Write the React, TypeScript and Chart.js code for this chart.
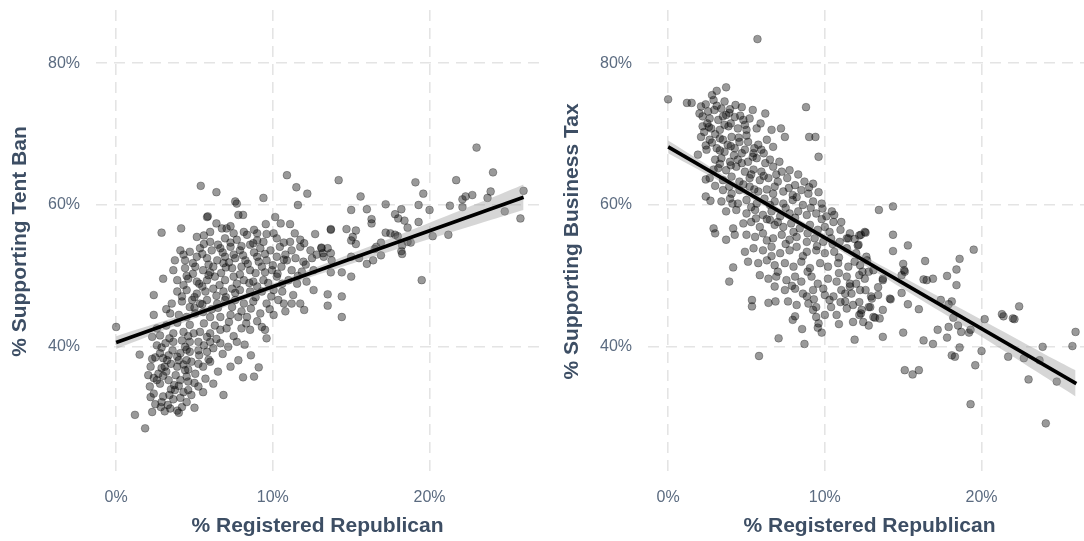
import React, { useEffect, useRef } from "react";
import { Chart, registerables } from "chart.js";

Chart.register(...registerables);

const xTicks = [0, 10, 20];
const yTicks = [40, 60, 80];
const xLabel = "% Registered Republican";
const tentTitle = "% Supporting Tent Ban";
const taxTitle = "% Supporting Business Tax";

const tentBanPoints: [number, number][] = [
  [0, 42.8], [1.5, 38.9], [1.2, 30.4], [1.85, 28.5], [2.4, 44.5], [2.4, 47.3], [3.0, 49.6], [2.9, 56.1],
  [4.15, 56.7], [5.4, 62.7], [6.4, 61.8], [7.6, 60.5], [7.7, 60.2], [7.8, 58.6], [8.1, 58.6], [5.8, 58.3],
  [5.85, 58.4], [9.4, 61.0], [10.9, 64.2], [11.5, 62.5], [12.2, 61.6], [11.6, 60.0], [14.2, 63.5], [10.15, 58.3],
  [9.55, 57.3], [10.5, 57.4], [11.1, 57.3], [13.7, 56.5], [12.7, 55.9], [6.85, 33.2], [8.1, 35.7], [8.8, 35.8],
  [9.1, 37.1], [7.8, 38.1], [8.6, 38.8], [13.5, 47.4], [13.5, 45.8], [12.6, 48.0], [12.0, 45.2], [11.75, 46.1],
  [11.2, 46.1],
  [2.3, 30.8], [2.85, 31.5], [3.45, 31.3], [4.2, 31.5], [5.0, 31.4], [3.65, 32.6], [2.4, 33.4], [3.75, 33.9],
  [4.6, 33.9], [5.25, 34.4], [5.55, 33.6], [2.15, 34.4], [2.6, 35.3], [3.35, 35.3], [4.1, 35.3], [4.5, 35.8],
  [5.05, 36.2], [2.7, 36.2], [3.1, 37.2], [3.9, 37.2], [4.4, 36.7], [2.2, 37.2], [2.05, 36.0], [3.25, 38.1],
  [4.0, 38.1], [4.5, 38.1], [5.25, 37.6], [5.55, 37.2], [6.0, 37.9], [2.8, 39.1], [3.35, 38.8], [4.1, 39.1],
  [4.7, 39.3], [5.25, 39.5], [5.8, 39.3], [6.2, 39.8], [2.6, 40.2], [3.15, 40.5], [3.65, 40.7], [4.2, 40.9],
  [4.7, 40.7], [5.25, 40.7], [6.0, 40.7], [6.65, 40.5], [7.15, 40.0], [7.7, 40.7], [2.3, 41.4], [2.8, 41.6],
  [3.65, 41.9], [4.3, 42.1], [4.95, 41.9], [5.35, 42.1], [6.0, 41.9], [6.65, 42.4], [7.05, 42.6], [8.0, 42.6],
  [8.55, 42.4], [9.3, 42.8], [9.5, 42.4], [9.6, 41.2],
  [3.0, 33.0], [3.5, 34.0], [4.0, 34.5], [2.8, 34.8], [3.2, 36.5], [3.8, 36.0], [4.3, 37.5], [2.5, 38.5],
  [3.6, 39.5], [4.4, 40.0], [2.9, 32.2], [4.1, 32.8], [4.8, 33.2], [3.3, 31.8], [4.6, 36.8], [5.3, 38.8],
  [2.5, 31.9], [3.1, 30.9], [3.9, 31.0], [4.5, 32.2], [2.2, 32.9], [3.4, 33.2], [4.3, 33.6], [5.0, 34.9],
  [2.4, 35.6], [3.0, 35.9], [3.7, 34.6], [4.6, 35.1], [2.9, 37.0], [3.5, 37.6], [4.8, 37.9], [2.3, 38.3],
  [3.0, 38.4], [3.9, 38.6], [4.5, 39.6], [5.6, 40.2], [2.9, 39.9], [3.4, 41.2], [4.6, 41.5], [5.8, 41.4],
  [6.4, 41.1], [2.6, 42.6], [3.2, 43.0], [3.9, 43.4], [4.7, 43.1], [5.6, 43.3], [6.3, 43.0], [7.2, 43.5],
  [8.3, 43.3], [9.0, 43.6], [7.5, 41.5], [8.2, 40.3], [6.8, 39.0], [5.9, 38.2], [6.5, 36.5], [7.3, 37.2],
  [5.7, 35.5], [6.2, 34.8], [4.0, 30.7],
  [3.45, 44.7], [4.0, 44.5], [4.5, 44.2], [5.05, 44.7], [5.55, 44.9], [6.0, 44.2], [6.65, 44.2], [7.3, 44.5],
  [7.8, 44.2], [8.35, 44.2], [9.2, 44.7], [10.05, 44.5], [3.55, 46.1], [4.2, 46.4], [4.85, 46.6], [5.35, 46.1],
  [5.8, 46.6], [6.45, 46.1], [6.95, 46.6], [7.6, 46.6], [8.15, 46.1], [8.75, 46.4], [9.6, 46.1], [10.35, 46.6],
  [10.7, 46.1], [3.9, 47.8], [4.5, 48.0], [5.15, 47.5], [5.7, 47.8], [6.2, 48.2], [6.85, 47.8], [7.4, 48.2],
  [7.9, 48.0], [8.55, 47.8], [9.3, 47.8], [10.05, 48.0], [10.6, 47.8], [3.9, 49.4], [4.6, 49.6], [5.15, 49.2],
  [5.8, 49.4], [6.3, 49.9], [6.95, 49.4], [7.5, 49.9], [8.15, 49.4], [8.75, 49.2], [9.4, 49.4], [10.25, 49.9],
  [11.0, 49.4], [11.55, 48.9], [12.15, 49.2], [3.65, 50.8], [4.4, 51.1], [5.05, 51.3], [5.55, 50.8], [6.2, 51.3],
  [6.85, 51.8], [7.4, 51.1], [8.0, 51.3], [8.55, 50.8], [9.3, 51.3], [9.95, 50.8], [10.55, 51.3], [11.2, 50.8],
  [11.85, 50.6], [12.6, 50.8], [3.75, 52.2], [4.4, 52.2], [5.15, 52.7], [5.8, 52.5], [6.45, 52.2], [6.95, 52.7],
  [7.6, 52.5], [8.25, 52.2], [9.0, 52.7], [9.6, 52.2], [10.25, 52.7], [10.9, 52.2], [11.45, 52.5], [11.95, 52.0],
  [12.5, 52.5], [13.25, 52.7], [13.75, 52.2], [4.1, 53.6], [4.7, 53.4], [5.35, 53.9], [6.1, 53.6], [6.65, 53.9],
  [7.3, 54.1], [7.9, 53.6], [8.55, 54.4], [9.2, 53.9], [9.85, 53.6], [10.45, 54.1], [11.2, 53.6], [11.75, 54.1],
  [12.4, 53.6], [13.1, 53.9], [5.15, 55.5], [6.0, 54.8], [6.95, 55.3], [7.7, 55.1], [8.35, 55.8], [8.75, 54.6],
  [9.4, 54.8], [10.25, 55.3], [11.1, 54.8], [11.75, 55.1], [6.0, 56.2], [6.75, 56.7], [7.05, 56.7], [8.15, 56.2],
  [9.0, 56.0], [10.05, 56.0],
  [5.0, 45.5], [6.5, 45.5], [7.0, 47.0], [5.5, 48.5], [8.5, 49.0], [9.5, 50.5], [6.0, 50.5], [7.5, 53.0],
  [4.5, 50.0], [8.0, 45.0], [9.0, 48.5], [10.0, 51.5], [5.5, 46.0], [7.2, 51.9], [8.8, 53.3],
  [3.2, 45.3], [4.7, 45.6], [6.1, 45.3], [7.4, 45.6], [8.6, 45.4], [9.8, 45.3], [10.8, 45.0], [4.2, 47.1],
  [5.0, 47.0], [6.4, 47.2], [7.6, 47.6], [8.9, 47.0], [9.9, 47.1], [11.3, 47.3], [4.3, 48.7], [5.3, 48.9],
  [6.6, 48.7], [7.7, 48.9], [9.7, 49.0], [10.6, 48.9], [4.9, 50.3], [5.9, 50.1], [6.7, 50.4], [7.9, 50.2],
  [8.9, 50.4], [10.3, 50.3], [11.6, 50.0], [4.9, 51.8], [5.9, 51.6], [7.0, 51.2], [8.4, 51.7], [9.1, 52.0],
  [10.7, 52.3], [12.1, 51.6], [4.3, 53.0], [5.5, 53.1], [6.8, 53.3], [8.1, 52.9], [9.5, 53.1], [10.8, 53.0],
  [12.8, 53.0], [5.6, 54.5], [6.5, 54.4], [7.3, 54.7], [8.0, 54.2], [9.0, 55.0], [10.7, 54.7], [12.0, 54.6],
  [5.6, 55.7], [7.5, 56.0], [8.8, 56.5], [6.4, 57.4], [7.3, 57.0], [9.6, 55.9], [11.4, 56.0],
  [23.0, 68.1], [24.05, 64.6], [21.7, 63.5], [19.1, 63.2], [19.6, 61.6], [15.6, 61.2], [22.73, 61.4], [22.3, 61.2],
  [22.1, 60.8], [23.9, 61.9], [23.7, 61.0], [26.0, 62.0], [25.8, 58.1], [24.8, 59.1], [21.3, 59.9], [22.1, 59.7],
  [21.2, 55.8], [20.2, 55.6], [20.0, 59.3], [19.3, 60.0], [19.3, 57.6], [19.5, 49.4], [17.2, 60.1], [16.0, 59.4],
  [15.0, 59.3], [18.2, 59.4], [17.8, 58.7], [18.0, 58.1], [18.4, 57.8], [16.3, 58.0], [16.3, 57.4], [14.7, 56.6],
  [15.3, 56.4], [15.1, 55.5], [15.0, 55.0], [15.3, 54.5], [13.7, 56.6], [17.2, 56.1], [17.5, 56.0], [17.8, 55.8],
  [17.97, 55.6], [18.6, 56.8], [18.6, 54.8], [18.8, 54.7], [18.25, 54.3], [18.2, 53.5], [18.25, 53.1], [16.6, 54.1],
  [16.5, 53.8], [16.9, 54.7], [16.9, 52.9], [16.4, 52.2], [16.0, 51.7], [15.5, 52.5], [15.0, 52.7], [15.0, 49.9],
  [14.4, 50.5], [13.7, 50.5], [14.4, 47.1], [14.4, 44.2], [13.7, 53.2], [13.1, 54.0], [13.5, 53.9], [13.2, 53.2],
];

const businessTaxPoints: [number, number][] = [
  [5.7, 83.4], [0, 74.9], [1.2, 74.4], [1.5, 74.4], [3.1, 76.1], [3.7, 76.6], [2.8, 75.5], [2.9, 74.8],
  [8.8, 73.8], [6.2, 72.9], [7.2, 70.8], [7.45, 69.6], [9.0, 69.6], [9.4, 69.6], [9.6, 66.8], [1.9, 67.1],
  [2.4, 63.6], [2.4, 61.2], [2.7, 60.6], [2.9, 56.7], [3.0, 56.0], [3.7, 55.1], [4.15, 56.7], [4.25, 55.8],
  [3.9, 49.2], [4.15, 51.2], [5.8, 38.7], [7.05, 41.2], [8.7, 40.4], [5.35, 46.6], [5.35, 45.7], [6.4, 46.2],
  [6.85, 46.4], [8.1, 44.3], [7.95, 43.8], [8.55, 42.5], [9.55, 42.7], [9.8, 42.0], [9.45, 44.2], [9.25, 45.2],
  [10.4, 45.6], [10.75, 44.5], [11.9, 41.0], [12.45, 43.5], [13.5, 44.0], [13.7, 41.4], [14.35, 59.8], [13.45, 59.3],
  [14.35, 55.8], [14.35, 53.5], [12.55, 56.2], [12.2, 55.7], [11.05, 57.6], [10.45, 59.1], [9.8, 60.2], [9.85, 59.5],
  [2.1, 73.9], [2.55, 73.2], [2.95, 73.4], [3.4, 73.6], [3.95, 73.5], [4.7, 73.8], [2.2, 72.5], [2.65, 72.2],
  [3.2, 72.0], [3.7, 72.7], [4.25, 72.4], [4.8, 72.0], [5.2, 72.2], [2.2, 71.1], [2.75, 70.8], [3.3, 70.6],
  [3.85, 71.1], [4.45, 70.8], [5.0, 70.6], [5.65, 70.8], [2.1, 69.6], [2.65, 69.2], [3.3, 69.4], [3.5, 69.2],
  [4.05, 69.6], [4.55, 68.9], [5.1, 68.9], [5.75, 68.5], [6.3, 69.2], [2.45, 67.8], [3.1, 68.0], [3.6, 67.5],
  [4.25, 68.0], [4.9, 67.8], [5.45, 67.3], [5.95, 67.8], [6.7, 68.2], [3.0, 66.4], [3.4, 66.6], [3.95, 66.1],
  [4.45, 66.4], [5.1, 66.1], [5.65, 66.6], [6.5, 66.4], [7.1, 66.1], [3.2, 65.2], [3.7, 64.9], [4.35, 65.4],
  [4.9, 64.7], [5.45, 65.0], [5.95, 64.7], [6.7, 65.4], [7.25, 64.7], [7.75, 64.9],
  [2.5, 71.5], [3.0, 70.0], [3.5, 72.5], [4.0, 71.5], [4.5, 69.5], [3.8, 68.5], [2.8, 68.8], [5.0, 69.8],
  [4.2, 67.0], [3.3, 65.8], [5.5, 68.0], [2.3, 70.3], [3.9, 73.0], [4.6, 72.6], [3.1, 74.0],
  [2.0, 72.9], [2.4, 74.2], [3.6, 74.6], [4.3, 74.1], [5.4, 73.4], [2.6, 71.0], [3.6, 71.3], [4.9, 71.3],
  [5.9, 71.5], [6.6, 70.6], [2.4, 68.4], [3.3, 67.7], [4.0, 68.3], [4.7, 67.3], [5.4, 66.8], [6.1, 67.3],
  [6.2, 65.9], [2.9, 65.0], [4.0, 65.6], [4.7, 65.9], [5.3, 64.3], [6.1, 64.1], [6.9, 64.3], [7.6, 63.8],
  [8.3, 64.3], [3.0, 62.7], [3.9, 62.6], [4.8, 62.9], [5.5, 62.2], [6.7, 61.6], [7.7, 62.4], [8.2, 61.1],
  [9.0, 62.5], [9.6, 61.8], [4.1, 60.2], [5.3, 59.7], [6.5, 60.0], [7.5, 59.6], [8.1, 58.2], [9.1, 59.6],
  [9.8, 58.0], [10.6, 58.6], [5.6, 58.1], [6.3, 58.0], [7.0, 57.6], [8.0, 56.2], [8.9, 56.0], [10.3, 56.2],
  [6.3, 55.0], [7.5, 54.5], [9.5, 54.2], [10.5, 54.5], [11.9, 55.2], [6.6, 52.8], [8.6, 52.8], [10.9, 52.6],
  [11.9, 52.0], [7.0, 50.6], [8.9, 50.6], [10.9, 50.4], [12.4, 50.6], [7.9, 48.6], [10.0, 47.3], [11.6, 48.5],
  [13.4, 48.4], [9.3, 46.7], [11.0, 46.3], [9.6, 43.3], [10.9, 43.2], [12.8, 43.0],
  [2.65, 63.8], [3.5, 63.5], [4.05, 64.0], [4.55, 63.3], [5.2, 63.8], [5.85, 63.5], [6.4, 63.8], [7.0, 63.3],
  [8.1, 62.8], [8.7, 63.3], [9.25, 63.0], [3.5, 62.1], [4.05, 61.6], [4.55, 62.1], [5.2, 62.6], [5.75, 61.9],
  [6.3, 62.2], [6.8, 62.6], [7.35, 61.9], [7.95, 61.4], [8.5, 62.1], [8.95, 61.6], [3.4, 60.5], [3.95, 60.9],
  [4.45, 60.2], [5.0, 60.7], [5.65, 60.2], [6.15, 60.9], [6.8, 60.5], [7.35, 60.2], [7.95, 60.7], [8.6, 60.0],
  [9.25, 60.5], [3.7, 59.1], [4.35, 59.3], [5.0, 58.8], [5.55, 59.3], [6.05, 58.6], [6.6, 59.1], [7.15, 58.4],
  [7.75, 58.8], [8.3, 59.1], [8.85, 58.6], [9.45, 58.8], [10.1, 58.4], [10.55, 57.6], [4.8, 57.4], [5.3, 57.6],
  [5.85, 56.9], [6.5, 57.9], [6.8, 57.2], [7.35, 56.9], [7.85, 57.4], [8.4, 56.7], [9.05, 57.2], [9.55, 56.5],
  [10.0, 56.9], [11.0, 56.5], [11.6, 56.0], [5.0, 55.8], [5.55, 55.5], [6.05, 56.0], [6.7, 55.3], [7.25, 55.8],
  [7.75, 55.1], [8.2, 55.5], [8.85, 54.8], [9.35, 55.3], [9.9, 54.8], [10.4, 55.3], [10.95, 54.8], [11.4, 55.3],
  [12.15, 54.4],
  [4.9, 53.4], [5.45, 53.9], [6.05, 53.6], [6.6, 54.1], [7.15, 53.2], [7.75, 53.6], [8.2, 54.1], [8.85, 53.4],
  [9.45, 53.6], [10.0, 53.2], [10.6, 53.4], [11.4, 53.9], [12.0, 53.2], [12.65, 52.7], [5.1, 52.0], [5.75, 51.8],
  [6.3, 52.2], [6.8, 51.5], [7.45, 51.8], [8.0, 51.3], [8.5, 52.0], [9.05, 51.1], [9.7, 51.8], [10.2, 51.3],
  [10.85, 51.8], [11.5, 51.3], [12.25, 51.5], [13.1, 50.8], [13.7, 49.6], [5.85, 50.1], [6.4, 49.6], [6.9, 49.9],
  [7.55, 49.4], [8.1, 49.9], [8.5, 49.2], [9.15, 49.9], [9.55, 48.9], [10.2, 49.6], [10.75, 49.2], [11.4, 49.9],
  [12.0, 48.9], [12.55, 49.6], [6.8, 48.5], [7.45, 48.0], [8.1, 48.2], [8.6, 47.5], [8.85, 47.1], [9.25, 48.0],
  [9.9, 48.2], [10.55, 47.1], [11.05, 48.0], [11.7, 47.5], [12.25, 48.0], [12.95, 47.1], [13.4, 47.3], [14.15, 46.8],
  [7.65, 46.4], [8.2, 45.9], [8.95, 46.1], [9.45, 45.6], [11.3, 46.4], [11.8, 45.9], [12.35, 45.2], [12.9, 45.6],
  [12.2, 44.5], [13.1, 44.2], [11.4, 45.4], [10.0, 44.5], [10.3, 46.6],
  [15.3, 54.3], [15.0, 51.7], [15.06, 50.8], [15.1, 50.6], [14.9, 50.1], [14.9, 47.6], [15.3, 46.0], [15.0, 42.0],
  [16.0, 45.3], [16.4, 52.1], [16.3, 49.5], [16.5, 49.4], [16.9, 49.6], [16.3, 40.9], [16.9, 40.4], [15.1, 36.7],
  [15.6, 36.1], [16.0, 36.7], [17.2, 42.4], [17.8, 41.3], [17.8, 50.0], [18.4, 50.9], [18.6, 52.4], [18.4, 48.7],
  [19.5, 53.7], [17.4, 46.6], [18.1, 46.4], [17.9, 46.0], [18.2, 44.1], [17.9, 42.8], [18.5, 43.0], [18.7, 42.1],
  [19.2, 42.0], [19.3, 42.4], [18.1, 38.8], [18.3, 38.6], [18.6, 39.9], [20.0, 39.4], [19.6, 37.4], [19.3, 31.9],
  [20.2, 43.9], [21.3, 44.6], [21.4, 44.3], [22.0, 44.0], [22.1, 43.9], [22.4, 45.7], [21.7, 38.6], [22.7, 38.4],
  [23.0, 35.4], [23.7, 38.1], [23.9, 40.0], [24.1, 29.2], [24.8, 35.1], [25.8, 40.1], [26.0, 42.1],
  [13.7, 49.4], [14.2, 46.7], [13.7, 45.2], [13.2, 44.1], [12.6, 56.1], [12.3, 55.8], [11.5, 55.3], [12.1, 54.3],
  [12.7, 52.2], [12.8, 50.6], [12.2, 50.1], [12.6, 48.0], [12.2, 46.3], [12.8, 45.6], [13.0, 46.8], [11.8, 43.5],
  [12.3, 44.7], [11.6, 48.9], [11.3, 47.5],
];

const tentFitX = [0, 26.0];
const tentFitY = [40.6, 61.1];
const taxFitX = [0, 26.05];
const taxFitY = [68.2, 34.8];

const bandX = [0, 4, 8, 12, 16, 20, 24, 26];
const tentBandUpper = [41.5, 44.35, 47.35, 50.6, 54.0, 57.5, 61.05, 62.9];
const tentBandLower = [39.7, 43.15, 46.45, 49.5, 52.4, 55.2, 57.95, 59.3];
const taxBandUpper = [69.1, 63.6, 58.4, 53.4, 48.6, 43.8, 39.0, 36.7];
const taxBandLower = [67.3, 62.5, 57.5, 52.2, 46.8, 41.4, 35.8, 33.0];

const FONT = '"Liberation Sans", Arial, Helvetica, sans-serif';
const TICK_COLOR = "#5b6b80";
const TITLE_COLOR = "#3d4e64";
const GRID_COLOR = "#e4e4e4";

type PanelProps = {
  points: [number, number][];
  fitX: number[];
  fitY: number[];
  bandUpper: number[];
  bandLower: number[];
  yTitle: string;
  left: number;
};

function Panel({ points, fitX, fitY, bandUpper, bandLower, yTitle, left }: PanelProps) {
  const ref = useRef<HTMLCanvasElement>(null);
  useEffect(() => {
    if (!ref.current) return;
    const chart = new Chart(ref.current, {
      type: "scatter",
      data: {
        datasets: [
          {
            type: "line",
            data: fitX.map((x, i) => ({ x, y: fitY[i] })),
            borderColor: "#000000",
            borderWidth: 3.6,
            pointRadius: 0,
            fill: false,
            order: 0,
          } as any,
          {
            type: "line",
            data: bandX.map((x, i) => ({ x, y: bandUpper[i] })),
            borderWidth: 0,
            borderColor: "rgba(0,0,0,0)",
            backgroundColor: "rgba(153,153,153,0.4)",
            pointRadius: 0,
            tension: 0.3,
            fill: "+1",
            order: 1,
          } as any,
          {
            type: "line",
            data: bandX.map((x, i) => ({ x, y: bandLower[i] })),
            borderWidth: 0,
            borderColor: "rgba(0,0,0,0)",
            pointRadius: 0,
            tension: 0.3,
            fill: false,
            order: 1,
          } as any,
          {
            type: "scatter",
            data: points.map(([x, y]) => ({ x, y })),
            pointRadius: 3.9,
            backgroundColor: "rgba(0,0,0,0.4)",
            borderColor: "rgba(0,0,0,0.3)",
            borderWidth: 0.9,
            order: 2,
          } as any,
        ],
      },
      options: {
        animation: false,
        responsive: false,
        events: [],
        layout: { padding: { top: 10, right: 13, left: 0, bottom: 0 } },
        plugins: { legend: { display: false }, tooltip: { enabled: false } },
        scales: {
          x: {
            type: "linear",
            min: -1.285,
            max: 26.985,
            afterBuildTicks: (axis: any) => {
              axis.ticks = xTicks.map((v) => ({ value: v }));
            },
            afterFit: (axis: any) => {
              axis.height = 68;
              axis.paddingLeft = 0;
              axis.paddingRight = 0;
            },
            grid: { color: GRID_COLOR, lineWidth: 1.6, drawTicks: false },
            border: { display: false, dash: [11, 7] },
            ticks: {
              padding: 15,
              color: TICK_COLOR,
              font: { family: FONT, size: 16 },
              callback: (v: any) => `${v}%`,
            },
            title: {
              display: true,
              text: xLabel,
              color: TITLE_COLOR,
              font: { family: FONT, size: 21, weight: "bold" },
              padding: { top: 0, bottom: 2 },
            },
          },
          y: {
            type: "linear",
            min: 22.2,
            max: 87.5,
            afterBuildTicks: (axis: any) => {
              axis.ticks = yTicks.map((v) => ({ value: v }));
            },
            afterFit: (axis: any) => {
              axis.width = 96;
              axis.paddingTop = 0;
              axis.paddingBottom = 0;
            },
            grid: { color: GRID_COLOR, lineWidth: 1.6, drawTicks: false },
            border: { display: false, dash: [11, 7] },
            ticks: {
              padding: 16,
              color: TICK_COLOR,
              font: { family: FONT, size: 16 },
              callback: (v: any) => `${v}%`,
            },
            title: {
              display: true,
              text: yTitle,
              color: TITLE_COLOR,
              font: { family: FONT, size: 21, weight: "bold" },
              padding: { top: 8, bottom: 0 },
            },
          },
        },
      } as any,
    });
    return () => chart.destroy();
  }, []);
  return (
    <canvas
      ref={ref}
      width={552}
      height={541}
      style={{ position: "absolute", left, top: 0, width: 552, height: 541 }}
    />
  );
}

export default function App() {
  return (
    <div
      style={{
        position: "absolute",
        left: 0,
        top: 0,
        width: 1084,
        height: 541,
        overflow: "hidden",
        background: "#ffffff",
      }}
    >
      <Panel
        points={tentBanPoints}
        fitX={tentFitX}
        fitY={tentFitY}
        bandUpper={tentBandUpper}
        bandLower={tentBandLower}
        yTitle={tentTitle}
        left={0}
      />
      <Panel
        points={businessTaxPoints}
        fitX={taxFitX}
        fitY={taxFitY}
        bandUpper={taxBandUpper}
        bandLower={taxBandLower}
        yTitle={taxTitle}
        left={552}
      />
    </div>
  );
}
